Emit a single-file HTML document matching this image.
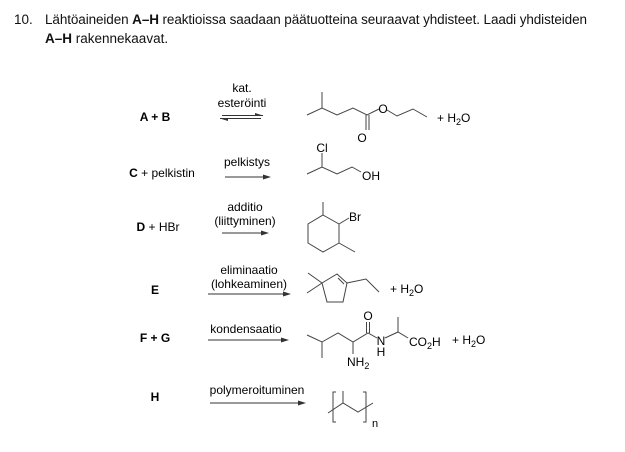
<!DOCTYPE html>
<html><head><meta charset="utf-8"><style>
html,body{margin:0;padding:0;background:#fff;width:625px;height:452px;overflow:hidden}
svg{display:block}
.h{font-family:"Liberation Sans",sans-serif;font-size:13.5px;fill:#111}
.l{font-family:"Liberation Sans",sans-serif;font-size:12px;fill:#000}
.b{font-weight:bold}
</style></head><body>
<svg width="625" height="452" viewBox="0 0 625 452">
<text class="h" x="14" y="24">10.</text>
<text class="h" x="45" y="24" textLength="542">Lähtöaineiden <tspan font-weight="bold">A–H</tspan> reaktioissa saadaan päätuotteina seuraavat yhdisteet. Laadi yhdisteiden</text>
<text class="h" x="45" y="43"><tspan font-weight="bold">A–H</tspan> rakennekaavat.</text>

<g class="l b">
<text x="155" y="121" text-anchor="middle">A + B</text>
<text x="162" y="177" text-anchor="middle" font-weight="normal"><tspan font-weight="bold">C</tspan> + pelkistin</text>
<text x="158" y="231" text-anchor="middle" font-weight="normal"><tspan font-weight="bold">D</tspan> + HBr</text>
<text x="155" y="294" text-anchor="middle">E</text>
<text x="155" y="342" text-anchor="middle">F + G</text>
<text x="155" y="401" text-anchor="middle">H</text>
</g>

<g class="l" text-anchor="middle">
<text x="242" y="92">kat.</text>
<text x="242" y="107">esteröinti</text>
<text x="247" y="166">pelkistys</text>
<text x="245" y="211">additio</text>
<text x="245" y="225">(liittyminen)</text>
<text x="249" y="274">eliminaatio</text>
<text x="249" y="288">(lohkeaminen)</text>
<text x="246" y="333">kondensaatio</text>
<text x="257" y="394">polymeroituminen</text>
</g>

<g stroke="#333" stroke-width="1" fill="none">
<line x1="222" y1="115.5" x2="263" y2="115.5"/>
<line x1="220" y1="118.5" x2="261" y2="118.5"/>
<line x1="225" y1="177" x2="266" y2="177"/>
<line x1="222" y1="233" x2="264" y2="233"/>
<line x1="208" y1="294" x2="286" y2="294"/>
<line x1="208" y1="340" x2="284" y2="340"/>
<line x1="210" y1="403" x2="301" y2="403"/>
</g>
<g fill="#333">
<polygon points="263,115.5 255,113 255,115.5"/>
<polygon points="220,118.5 228,121 228,118.5"/>
<polygon points="271,177 263,174.5 263,179.5"/>
<polygon points="269,233 261,230.5 261,235.5"/>
<polygon points="291,294 283,291.5 283,296.5"/>
<polygon points="289,340 281,337.5 281,342.5"/>
<polygon points="306,403 298,400.5 298,405.5"/>
</g>

<g stroke="#444" stroke-width="1" fill="none">
<!-- ester -->
<polyline points="307,115 322,108 337,115 353,108 367,115 379,109"/>
<line x1="322" y1="108" x2="322" y2="92"/>
<line x1="366" y1="115" x2="366" y2="130"/>
<line x1="369" y1="115" x2="369" y2="130"/>
<polyline points="387,110 397,116 413,109 427,117"/>
<!-- chlorohydrin -->
<polyline points="307,174 322,167 337,174 352,167 361,172"/>
<line x1="322" y1="167" x2="322" y2="153"/>
<!-- cyclohexane -->
<polygon points="323,215 339,224 339,243 323,252 308,243 308,224"/>
<line x1="323" y1="215" x2="323" y2="202"/>
<line x1="339" y1="224" x2="349" y2="218"/>
<line x1="339" y1="243" x2="355" y2="252"/>
<!-- cyclopentene -->
<polygon points="322,283 337,274 347,283 343,302 327,302"/>
<line x1="338" y1="278" x2="344" y2="284"/>
<line x1="322" y1="283" x2="308" y2="273"/>
<line x1="322" y1="283" x2="307" y2="293"/>
<polyline points="347,283 366,279 379,292"/>
<!-- dipeptide -->
<polyline points="307,335 322,342 338,333 353,342 368,333 377,338"/>
<line x1="322" y1="342" x2="322" y2="358"/>
<line x1="353" y1="342" x2="353" y2="354"/>
<line x1="366.5" y1="333" x2="366.5" y2="322"/>
<line x1="369.5" y1="333" x2="369.5" y2="322"/>
<polyline points="385,338 398,332 408,338"/>
<line x1="398" y1="332" x2="398" y2="317"/>
<!-- polymer -->
<polyline points="336,392 333,392 333,422 336,422"/>
<polyline points="363,392 366,392 366,422 363,422"/>
<polyline points="328,413 343,403 358,412 373,403"/>
<line x1="343" y1="403" x2="343" y2="391"/>
</g>

<g class="l">
<text x="362" y="142" text-anchor="middle">O</text>
<text x="383" y="113" text-anchor="middle">O</text>
<text x="437" y="122">+ H<tspan font-size="9" dy="3">2</tspan><tspan dy="-3">O</tspan></text>
<text x="322" y="152" text-anchor="middle">Cl</text>
<text x="362" y="180">OH</text>
<text x="349" y="221">Br</text>
<text x="390" y="293">+ H<tspan font-size="9" dy="3">2</tspan><tspan dy="-3">O</tspan></text>
<text x="368" y="320" text-anchor="middle">O</text>
<text x="381" y="345" text-anchor="middle">N</text>
<text x="381" y="356" text-anchor="middle">H</text>
<text x="347" y="366">NH<tspan font-size="9" dy="3">2</tspan></text>
<text x="409" y="346">CO<tspan font-size="9" dy="3">2</tspan><tspan dy="-3">H</tspan></text>
<text x="452" y="344">+ H<tspan font-size="9" dy="3">2</tspan><tspan dy="-3">O</tspan></text>
<text x="372" y="427" font-size="11">n</text>
</g>
</svg>
</body></html>
